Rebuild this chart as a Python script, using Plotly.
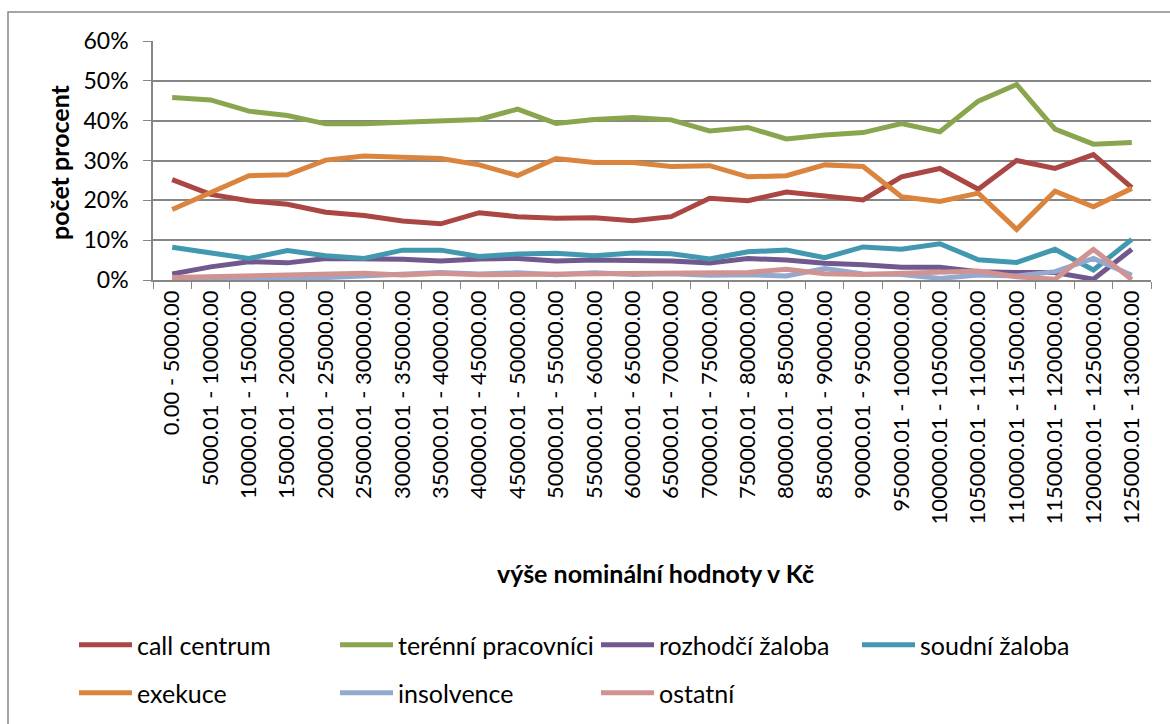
import plotly.graph_objects as go

categories = [
    "0.00 - 5000.00", "5000.01 - 10000.00", "10000.01 - 15000.00", "15000.01 - 20000.00",
    "20000.01 - 25000.00", "25000.01 - 30000.00", "30000.01 - 35000.00", "35000.01 - 40000.00",
    "40000.01 - 45000.00", "45000.01 - 50000.00", "50000.01 - 55000.00", "55000.01 - 60000.00",
    "60000.01 - 65000.00", "65000.01 - 70000.00", "70000.01 - 75000.00", "75000.01 - 80000.00",
    "80000.01 - 85000.00", "85000.01 - 90000.00", "90000.01 - 95000.00", "95000.01 - 100000.00",
    "100000.01 - 105000.00", "105000.01 - 110000.00", "110000.01 - 115000.00",
    "115000.01 - 120000.00", "120000.01 - 125000.00", "125000.01 - 130000.00",
]

call_centrum = [25.2, 21.5, 19.9, 19.0, 17.0, 16.2, 14.8, 14.1, 16.9, 15.9, 15.5, 15.6, 14.9,
                15.9, 20.5, 19.9, 22.1, 21.2, 20.1, 25.9, 28.0, 22.8, 30.0, 28.0, 31.5, 23.2]
terenni_pracovnici = [45.8, 45.2, 42.4, 41.3, 39.2, 39.2, 39.6, 40.0, 40.3, 42.9, 39.3, 40.3, 40.8,
                      40.2, 37.4, 38.3, 35.4, 36.4, 37.0, 39.3, 37.2, 44.9, 49.1, 37.9, 34.1, 34.5]
rozhodci_zaloba = [1.5, 3.3, 4.6, 4.3, 5.4, 5.4, 5.2, 4.8, 5.3, 5.4, 4.8, 5.0, 5.0,
                   4.8, 4.3, 5.4, 5.0, 4.2, 3.8, 3.2, 3.2, 2.1, 1.9, 1.9, 0.2, 7.7]
soudni_zaloba = [8.2, 6.9, 5.4, 7.4, 6.1, 5.4, 7.5, 7.5, 5.9, 6.5, 6.7, 6.1, 6.8,
                 6.6, 5.3, 7.1, 7.5, 5.6, 8.3, 7.7, 9.1, 5.1, 4.4, 7.7, 2.5, 10.2]
exekuce = [17.7, 21.9, 26.2, 26.4, 30.1, 31.1, 30.9, 30.5, 28.9, 26.2, 30.5, 29.5, 29.5,
           28.5, 28.7, 25.9, 26.2, 28.9, 28.5, 20.9, 19.7, 21.8, 12.7, 22.3, 18.4, 23.0]
insolvence = [0.2, 0.2, 0.3, 0.3, 0.6, 1.0, 1.7, 1.9, 1.5, 1.8, 1.3, 1.8, 1.4,
              1.6, 1.2, 1.3, 1.0, 2.9, 1.5, 1.4, 0.4, 1.25, 1.0, 2.1, 5.4, 1.2]
ostatni = [0.6, 0.8, 1.0, 1.2, 1.25, 1.7, 1.25, 1.7, 1.3, 1.4, 1.5, 1.7, 1.7,
           1.9, 1.7, 1.9, 2.7, 1.6, 1.4, 1.7, 1.9, 2.25, 0.8, 0.2, 7.7, 0.1]

series = [
    ("call centrum", call_centrum, "#AA4643", "legend"),
    ("terénní pracovníci", terenni_pracovnici, "#89A54E", "legend"),
    ("rozhodčí žaloba", rozhodci_zaloba, "#71588F", "legend"),
    ("soudní žaloba", soudni_zaloba, "#4198AF", "legend"),
    ("exekuce", exekuce, "#DB843D", "legend2"),
    ("insolvence", insolvence, "#93A9CF", "legend2"),
    ("ostatní", ostatni, "#D19392", "legend2"),
]

FONT = "Lato"
W, H = 1170, 724
L, R, T, B = 153, 19, 41, 444
PW, PH = W - L - R, H - T - B

def px(x):
    return (x - L) / PW

def py(y):
    return (H - B - y) / PH

fig = go.Figure()
for name, vals, color, lg in series:
    fig.add_trace(go.Scatter(
        x=categories, y=vals, mode="lines", name=name,
        line=dict(color=color, width=5), legend=lg,
    ))

grid_col = "#868686"
legend_common = dict(
    orientation="h", xanchor="left", yanchor="middle",
    entrywidth=193, entrywidthmode="pixels", font=dict(family=FONT, size=25),
    bgcolor="rgba(0,0,0,0)", itemwidth=53,
)
fig.update_layout(
    width=W, height=H,
    margin=dict(l=L, r=R, t=T, b=B, autoexpand=False),
    paper_bgcolor="white", plot_bgcolor="white",
    font=dict(family=FONT, size=22, color="black"),
    xaxis=dict(
        type="category", range=[-0.5, len(categories) - 0.5], automargin=False,
        tickangle=-90, ticks="outside", tickson="boundaries",
        ticklen=7, tickcolor=grid_col, showline=True, linecolor=grid_col, linewidth=1.5,
        showgrid=False, tickfont=dict(family=FONT, size=22),
    ),
    yaxis=dict(
        range=[0, 60], dtick=10, ticksuffix="%", ticks="outside", ticklen=8,
        automargin=False, ticklabelstandoff=10,
        tickcolor=grid_col, showline=True, linecolor=grid_col, linewidth=1.5,
        showgrid=True, gridcolor=grid_col, gridwidth=1.5, zeroline=False,
        tickfont=dict(family=FONT, size=23),
    ),
    legend=dict(x=px(74), y=py(645), **legend_common),
    legend2=dict(x=px(74), y=py(693), **legend_common),
    shapes=[dict(
        type="rect", xref="paper", yref="paper",
        x0=px(8), y0=py(12), x1=px(1200), y1=py(760),
        line=dict(color="#888888", width=1.5), fillcolor="rgba(0,0,0,0)", layer="below",
    )],
    annotations=[
        dict(text="<b>počet procent</b>", xref="paper", yref="paper", x=px(59), y=py(162),
             textangle=-90, showarrow=False, font=dict(family=FONT, size=25),
             xanchor="center", yanchor="middle"),
        dict(text="<b>výše nominální hodnoty v Kč</b>", xref="paper", yref="paper",
             x=px(655), y=py(573), showarrow=False, font=dict(family=FONT, size=25),
             xanchor="center", yanchor="middle"),
    ],
)

fig.write_html("out.html", config={"displayModeBar": False},
               post_script="document.body.style.margin='0px';")
